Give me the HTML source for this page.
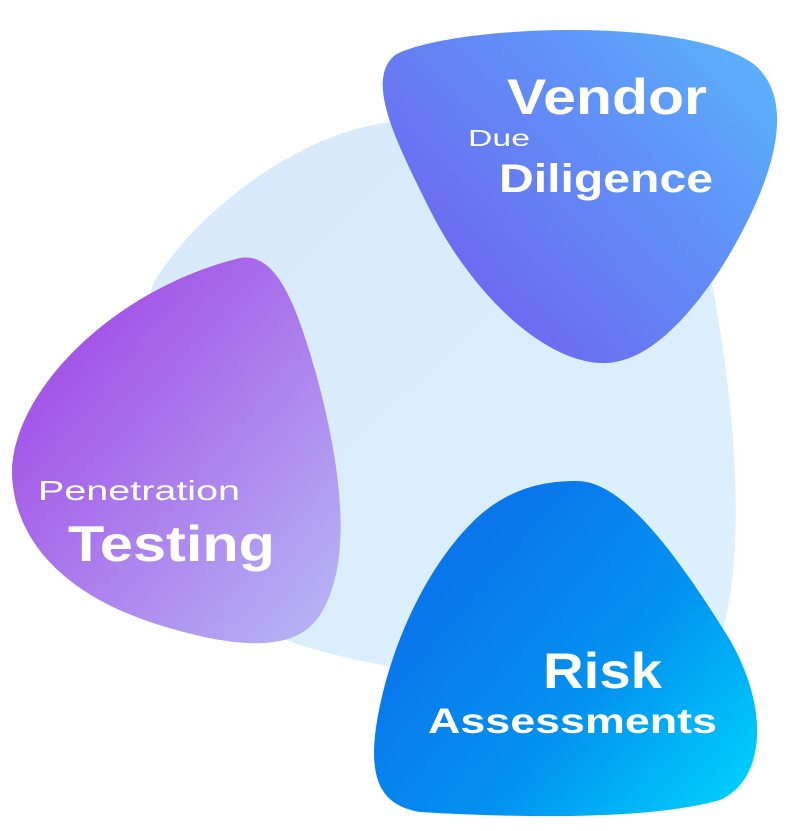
<!DOCTYPE html>
<html><head><style>
html,body{margin:0;padding:0;background:#fff;width:790px;height:831px;overflow:hidden}
svg{display:block}
text{font-family:"Liberation Sans",sans-serif;fill:#fff;font-weight:bold}
</style></head><body>
<svg width="790" height="831" viewBox="0 0 790 831">
<defs>
<linearGradient id="bg" x1="0" y1="0" x2="1" y2="1"><stop offset="0" stop-color="#d8e8fb"/><stop offset="1" stop-color="#dcf2fd"/></linearGradient>
<linearGradient id="gv" x1="0.1" y1="0.7" x2="1" y2="0"><stop offset="0" stop-color="#6d67ef"/><stop offset="0.6" stop-color="#5f95f8"/><stop offset="1" stop-color="#5ab8fc"/></linearGradient>
<linearGradient id="gp" x1="0.1" y1="0.2" x2="0.9" y2="1"><stop offset="0" stop-color="#a24de6"/><stop offset="1" stop-color="#b6b3f4"/></linearGradient>
<linearGradient id="gr" x1="0.2" y1="0.3" x2="1" y2="0.9"><stop offset="0" stop-color="#0a76ec"/><stop offset="0.5" stop-color="#0392f0"/><stop offset="1" stop-color="#00d0fb"/></linearGradient>
</defs>
<path d="M390,122 C520,105 690,150 715,300 C738,430 745,560 720,640 C690,700 500,690 388,666 C300,650 240,630 200,580 C140,500 125,380 153,284 C190,220 290,135 390,122 Z" fill="url(#bg)"/>
<path d="M395,55 C450,25 690,15 755,65 C800,105 770,190 720,270 C680,330 640,365 600,363 C540,360 470,290 430,210 C395,140 365,80 395,55 Z" fill="url(#gv)"/>
<path d="M240,258 C275,252 295,300 315,370 C340,460 355,560 320,615 C295,655 230,648 150,622 C70,595 15,545 12,475 C10,395 110,290 240,258 Z" fill="url(#gp)"/>
<path d="M577,481 C625,481 680,560 730,640 C770,710 765,780 720,800 C650,820 520,818 420,812 C375,805 368,770 378,715 C392,640 430,560 480,515 C515,485 550,481 577,481 Z" fill="url(#gr)"/>
<text x="507" y="114" font-size="50" textLength="200" lengthAdjust="spacingAndGlyphs">Vendor</text>
<text x="468" y="146" font-size="23" textLength="62" lengthAdjust="spacingAndGlyphs" style="font-weight:normal">Due</text>
<text x="499" y="192" font-size="40" textLength="214" lengthAdjust="spacingAndGlyphs">Diligence</text>
<text x="38" y="500" font-size="28" textLength="202" lengthAdjust="spacingAndGlyphs" style="font-weight:normal">Penetration</text>
<text x="68" y="561" font-size="50" textLength="207" lengthAdjust="spacingAndGlyphs">Testing</text>
<text x="543" y="688" font-size="50" textLength="119" lengthAdjust="spacingAndGlyphs">Risk</text>
<text x="428" y="733" font-size="35" textLength="289" lengthAdjust="spacingAndGlyphs">Assessments</text>
</svg>
</body></html>
